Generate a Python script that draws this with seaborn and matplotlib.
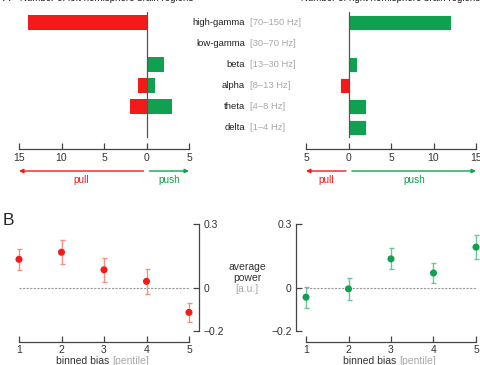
import numpy as np
import pandas as pd
import seaborn as sns
import matplotlib.pyplot as plt
from matplotlib.transforms import blended_transform_factory

# ----------------------------
# data
# ----------------------------
bands = ["high-gamma", "low-gamma", "beta", "alpha", "theta", "delta"]
ranges = ["[70\u2013150 Hz]", "[30\u201370 Hz]", "[13\u201330 Hz]", "[8\u201313 Hz]", "[4\u20138 Hz]", "[1\u20134 Hz]"]

left_pull = [14, 0, 0, 1, 2, 0]
left_push = [0, 0, 2, 1, 3, 0]
right_pull = [0, 0, 0, 1, 0, 0]
right_push = [12, 0, 1, 0, 2, 2]

pentile = [1, 2, 3, 4, 5]
left_power = [0.135, 0.168, 0.086, 0.032, -0.113]
left_err = [0.050, 0.055, 0.057, 0.058, 0.044]
right_power = [-0.042, -0.003, 0.137, 0.071, 0.192]
right_err = [0.049, 0.052, 0.049, 0.048, 0.056]

left_ticks = [-15, -10, -5, 0, 5]
right_ticks = [-5, 0, 5, 10, 15]

RED = "#f51a1a"
GREEN = "#0fa150"
RED_LIGHT = "#f29282"
GREEN_LIGHT = "#6ec696"
GRAY_TXT = "#a8a8a8"
DARK = "#333333"
AX_COL = "#444444"

sns.set_theme(style="white")
plt.rcParams["font.family"] = ["Liberation Sans", "DejaVu Sans"]
plt.rcParams["axes.linewidth"] = 0.9
plt.rcParams["xtick.color"] = AX_COL
plt.rcParams["ytick.color"] = AX_COL
plt.rcParams["xtick.labelcolor"] = DARK
plt.rcParams["ytick.labelcolor"] = DARK

W, H = 481, 365
fig = plt.figure(figsize=(W / 100, H / 100), dpi=100)


def box(x0, y0, x1, y1):
    return [x0 / W, 1 - y1 / H, (x1 - x0) / W, (y1 - y0) / H]


def bars_df(pull, push):
    return pd.DataFrame({
        "band": bands * 2,
        "value": [-v for v in pull] + list(push),
        "dir": ["pull"] * len(bands) + ["push"] * len(bands),
    })


def style_top(ax, ticks, pull_x, push_x):
    ax.set_xlim(ticks[0], ticks[-1])
    ax.set_ylim(5.5, -0.5)
    ax.set_yticks([])
    ax.set_ylabel("")
    ax.set_xlabel("")
    ax.set_xticks(ticks)
    ax.set_xticklabels([str(abs(t)) for t in ticks])
    for s in ["top", "left", "right"]:
        ax.spines[s].set_visible(False)
    ax.spines["bottom"].set_position(("outward", 8))
    ax.spines["bottom"].set_color(AX_COL)
    ax.tick_params(axis="x", direction="in", length=4, width=0.9,
                   pad=2.5, labelsize=7.5, bottom=True)
    ax.axvline(0, color="#555555", lw=0.9, zorder=3)
    tr = ax.get_xaxis_transform()
    # pull / push arrows
    ax.annotate("", xy=(pull_x[1], -0.262), xytext=(pull_x[0], -0.262),
                xycoords=tr, textcoords=tr, annotation_clip=False,
                arrowprops=dict(arrowstyle="-|>", color=RED, lw=1.0,
                                mutation_scale=6, shrinkA=0, shrinkB=0))
    ax.annotate("", xy=(push_x[1], -0.262), xytext=(push_x[0], -0.262),
                xycoords=tr, textcoords=tr, annotation_clip=False,
                arrowprops=dict(arrowstyle="-|>", color=GREEN, lw=1.0,
                                mutation_scale=6, shrinkA=0, shrinkB=0))
    ax.text(np.mean(pull_x), -0.33, "pull", color=RED, fontsize=7.2,
            ha="center", va="center", transform=tr)
    ax.text(np.mean(push_x), -0.33, "push", color=GREEN, fontsize=7.2,
            ha="center", va="center", transform=tr)


# ----------------------------
# A) top panels
# ----------------------------
ax1 = fig.add_axes(box(19, 12, 189, 138))
sns.barplot(data=bars_df(left_pull, left_push), y="band", x="value", hue="dir",
            order=bands, hue_order=["pull", "push"], palette=[RED, GREEN],
            orient="h", dodge=False, width=0.72, legend=False, saturation=1,
            linewidth=0, ax=ax1)
style_top(ax1, left_ticks, (-0.35, -15), (0.35, 5))

ax2 = fig.add_axes(box(306, 12, 476, 138))
sns.barplot(data=bars_df(right_pull, right_push), y="band", x="value", hue="dir",
            order=bands, hue_order=["pull", "push"], palette=[RED, GREEN],
            orient="h", dodge=False, width=0.72, legend=False, saturation=1,
            edgecolor="white", linewidth=0.6, ax=ax2)
style_top(ax2, right_ticks, (-0.3, -5), (0.4, 15))

# band labels in the middle
tr_mid = blended_transform_factory(fig.transFigure, ax1.transData)
for i, (b, r) in enumerate(zip(bands, ranges)):
    fig.text(245 / W, i, b, transform=tr_mid, ha="right", va="center",
             fontsize=6.8, color="#222222")
    fig.text(250 / W, i, r, transform=tr_mid, ha="left", va="center",
             fontsize=6.8, color=GRAY_TXT)

# titles (cut off at top edge, as in the source figure)
fig.text(3 / W, 1 - 0.8 / H, "A", fontsize=8, ha="left", va="baseline")
fig.text(107 / W, 1 - 0.8 / H, "Number of left hemisphere brain regions",
         fontsize=7, ha="center", va="baseline", color="#222222")
fig.text(391 / W, 1 - 0.8 / H, "Number of right hemisphere brain regions",
         fontsize=7, ha="center", va="baseline", color="#222222")

# ----------------------------
# B) bottom panels
# ----------------------------
fig.text(3 / W, 1 - 225 / H, "B", fontsize=12.5, ha="left", va="baseline")


def style_bottom(ax, side):
    ax.set_xlim(1, 5)
    ax.set_ylim(-0.2, 0.3)
    ax.set_xticks(pentile)
    ax.set_yticks([-0.2, 0, 0.3])
    ax.set_yticklabels(["\u22120.2", "0", "0.3"])
    ax.set_xlabel("")
    ax.set_ylabel("")
    other = "left" if side == "right" else "right"
    for s in ["top", other]:
        ax.spines[s].set_visible(False)
    ax.spines["bottom"].set_position(("outward", 7.7))
    ax.spines[side].set_position(("outward", 7.2))
    for s in ["bottom", side]:
        ax.spines[s].set_color(AX_COL)
    ax.tick_params(axis="x", direction="in", length=4, width=0.9,
                   pad=2.5, labelsize=7.5, bottom=True)
    if side == "right":
        ax.yaxis.tick_right()
    ax.tick_params(axis="y", direction="in", length=4, width=0.9,
                   pad=3, labelsize=7.5, left=(side == "left"),
                   right=(side == "right"))
    ax.hlines(0, pentile[0], pentile[-1], colors="#999999",
              linestyles=(0, (2, 1.2)), lw=0.8, zorder=1)
    t = ax.text(0.5 - 0.115, -0.235, "binned bias ", transform=ax.transAxes,
                ha="center", va="top", fontsize=7.5, color=DARK)
    ax.annotate("[pentile]", xy=(1, 0), xycoords=t, va="bottom",
                fontsize=7.5, color=GRAY_TXT)


def unclip(ax):
    for art in list(ax.collections) + list(ax.lines):
        art.set_clip_on(False)


ax3 = fig.add_axes(box(19, 224, 189, 331))
ax3.errorbar(pentile, left_power, yerr=left_err, fmt="none",
             ecolor=RED_LIGHT, elinewidth=1.0, capsize=1.8, capthick=1.0)
sns.scatterplot(x=pentile, y=left_power, color=RED, s=26,
                edgecolor="none", zorder=4, ax=ax3)
style_bottom(ax3, "right")
unclip(ax3)

ax4 = fig.add_axes(box(306, 224, 476, 331))
ax4.errorbar(pentile, right_power, yerr=right_err, fmt="none",
             ecolor=GREEN_LIGHT, elinewidth=1.0, capsize=1.8, capthick=1.0)
sns.scatterplot(x=pentile, y=right_power, color=GREEN, s=26,
                edgecolor="none", zorder=4, ax=ax4)
style_bottom(ax4, "left")
unclip(ax4)

# shared y label in the middle
fig.text(247 / W, 1 - 267 / H, "average", ha="center", va="center",
         fontsize=7.5, color=DARK)
fig.text(247 / W, 1 - 278 / H, "power", ha="center", va="center",
         fontsize=7.5, color=DARK)
fig.text(247 / W, 1 - 289 / H, "[a.u.]", ha="center", va="center",
         fontsize=7.5, color=GRAY_TXT)

fig.savefig("out.png", dpi=100)
